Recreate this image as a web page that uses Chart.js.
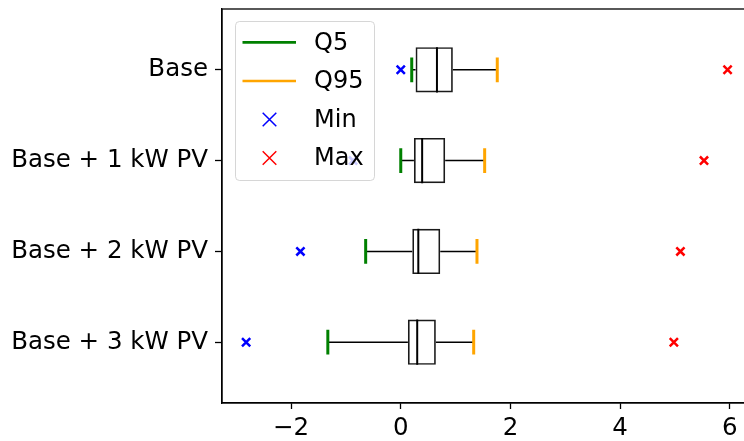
<!DOCTYPE html>
<html>
<head>
<meta charset="utf-8">
<script src="https://cdn.jsdelivr.net/npm/chart.js@4.4.1/dist/chart.umd.min.js"></script>
<style>
html,body{margin:0;padding:0;overflow:hidden;background:#fff;}
#wrap{width:760px;height:441px;position:relative;}
</style>
</head>
<body>
<div id="wrap"><canvas id="c"></canvas></div>
<script>
const categories = ['Base', 'Base + 1 kW PV', 'Base + 2 kW PV', 'Base + 3 kW PV'];
const q5Vals     = [0.20, 0.00, -0.64, -1.33];
const q25Vals    = [0.27, 0.24, 0.21, 0.13];
const medianVals = [0.66, 0.39, 0.32, 0.30];
const q75Vals    = [0.95, 0.81, 0.72, 0.64];
const q95Vals    = [1.76, 1.53, 1.39, 1.33];
const minVals    = [0.00, -0.87, -1.83, -2.82];
const maxVals    = [5.96, 5.53, 5.10, 4.98];
const xTicks     = [-2, 0, 2, 4, 6];
const legendLabels = ['Q5', 'Q95', 'Min', 'Max'];

const COLORS = {q5:'#008000', q95:'#FFA500', min:'#0000FF', max:'#FF0000'};
const FONT = {family:'"DejaVu Sans"', size:24.5};
const pos = categories.map((c,i)=>i+1);
const GAP = {x:null, y:null};

function segs(fn){ const out=[]; pos.forEach((p,i)=>{ out.push(...fn(p,i), GAP); }); return out; }

const boxData = pos.map((p,i)=>({x:[q25Vals[i], q75Vals[i]], y:p}));
const whiskerData = segs((p,i)=>[{x:q5Vals[i],y:p},{x:q25Vals[i],y:p},GAP,{x:q75Vals[i],y:p},{x:q95Vals[i],y:p}]);
const medianData = segs((p,i)=>[{x:medianVals[i],y:p-0.25},{x:medianVals[i],y:p+0.25}]);
const q5Cap = segs((p,i)=>[{x:q5Vals[i],y:p-0.137},{x:q5Vals[i],y:p+0.137}]);
const q95Cap = segs((p,i)=>[{x:q95Vals[i],y:p-0.137},{x:q95Vals[i],y:p+0.137}]);
const minData = pos.map((p,i)=>({x:minVals[i], y:p}));
const maxData = pos.map((p,i)=>({x:maxVals[i], y:p}));

const frame = {
  id:'frame',
  afterDatasetsDraw(chart){
    const {ctx, chartArea:a} = chart;
    ctx.save();
    ctx.strokeStyle='#000'; ctx.lineWidth=1.3;
    ctx.strokeRect(a.left, a.top, a.right-a.left, a.bottom-a.top);
    // legend
    const lx=a.left+13.5, ly=a.top+12.5, lw=139, lh=159;
    ctx.beginPath();
    ctx.roundRect(lx, ly, lw, lh, 4);
    ctx.fillStyle='rgba(255,255,255,0.8)'; ctx.fill();
    ctx.strokeStyle='rgba(204,204,204,0.8)'; ctx.lineWidth=1; ctx.stroke();
    const rows=[a.top+33.4, a.top+72, a.top+110.5, a.top+149];
    const cols=[COLORS.q5, COLORS.q95, COLORS.min, COLORS.max];
    ctx.font = '24px "DejaVu Sans"';
    ctx.textBaseline='middle'; ctx.textAlign='left';
    rows.forEach((y,i)=>{
      ctx.strokeStyle=cols[i];
      if(i<2){
        ctx.lineWidth=2.7; ctx.beginPath(); ctx.moveTo(a.left+20.5,y); ctx.lineTo(a.left+74,y); ctx.stroke();
      } else {
        ctx.lineWidth=1.5; const cx=a.left+47.5, r=6.8;
        ctx.beginPath(); ctx.moveTo(cx-r,y-r); ctx.lineTo(cx+r,y+r); ctx.moveTo(cx-r,y+r); ctx.lineTo(cx+r,y-r); ctx.stroke();
      }
      ctx.fillStyle='#000';
      ctx.fillText(legendLabels[i], a.left+92, y+1);
    });
    ctx.restore();
  }
};

function noPad(ax){ ax.paddingTop=0; ax.paddingBottom=0; ax.paddingLeft=0; ax.paddingRight=0; }

new Chart(document.getElementById('c'), {
  type:'scatter',
  data:{
    datasets:[
      {type:'line', data:whiskerData, borderColor:'#000', borderWidth:1.5, pointRadius:0, spanGaps:false, order:5},
      {type:'bar', indexAxis:'y', data:boxData, backgroundColor:'rgba(0,0,0,0)', borderColor:'#1a1a1a', borderWidth:1.7, borderSkipped:false, barPercentage:0.5, categoryPercentage:1, order:4},
      {type:'line', data:medianData, borderColor:'#000', borderWidth:2, pointRadius:0, spanGaps:false, order:3},
      {type:'line', data:q5Cap, borderColor:COLORS.q5, borderWidth:3, pointRadius:0, spanGaps:false, borderCapStyle:'butt', order:2},
      {type:'line', data:q95Cap, borderColor:COLORS.q95, borderWidth:3, pointRadius:0, spanGaps:false, borderCapStyle:'butt', order:2},
      {type:'scatter', data:minData, pointStyle:'crossRot', pointRadius:5.8, borderColor:COLORS.min, borderWidth:2.5, order:1},
      {type:'scatter', data:maxData, pointStyle:'crossRot', pointRadius:5.8, borderColor:COLORS.max, borderWidth:2.5, order:1}
    ]
  },
  options:{
    responsive:true, maintainAspectRatio:false, animation:false,
    layout:{padding:{top:9, right:5, left:0, bottom:0}},
    plugins:{legend:{display:false}, tooltip:{enabled:false}},
    scales:{
      x:{type:'linear', min:-3.26, max:6.40, offset:false,
        afterBuildTicks(ax){ ax.ticks = xTicks.map(v=>({value:v})); },
        afterFit(ax){ ax.height = 38; noPad(ax); },
        ticks:{color:'#000', font:FONT, padding:5, maxRotation:0, autoSkip:false,
          callback:(v)=> v<0 ? '\u2212'+Math.abs(v) : String(v)},
        grid:{offset:false, drawOnChartArea:false, drawTicks:true, tickLength:6, color:'#000', tickWidth:1.3},
        border:{display:true, color:'#000', width:1.3}
      },
      y:{type:'linear', min:0.33, max:4.67, reverse:true, offset:false,
        afterBuildTicks(ax){ ax.ticks = pos.map(v=>({value:v})); },
        afterFit(ax){ ax.width = 222; noPad(ax); },
        ticks:{color:'#000', font:FONT, padding:7, autoSkip:false,
          callback:(v)=> categories[v-1]},
        grid:{offset:false, drawOnChartArea:false, drawTicks:true, tickLength:7, color:'#000', tickWidth:1.3},
        border:{display:true, color:'#000', width:1.3}
      }
    }
  },
  plugins:[frame]
});
</script>
</body>
</html>
